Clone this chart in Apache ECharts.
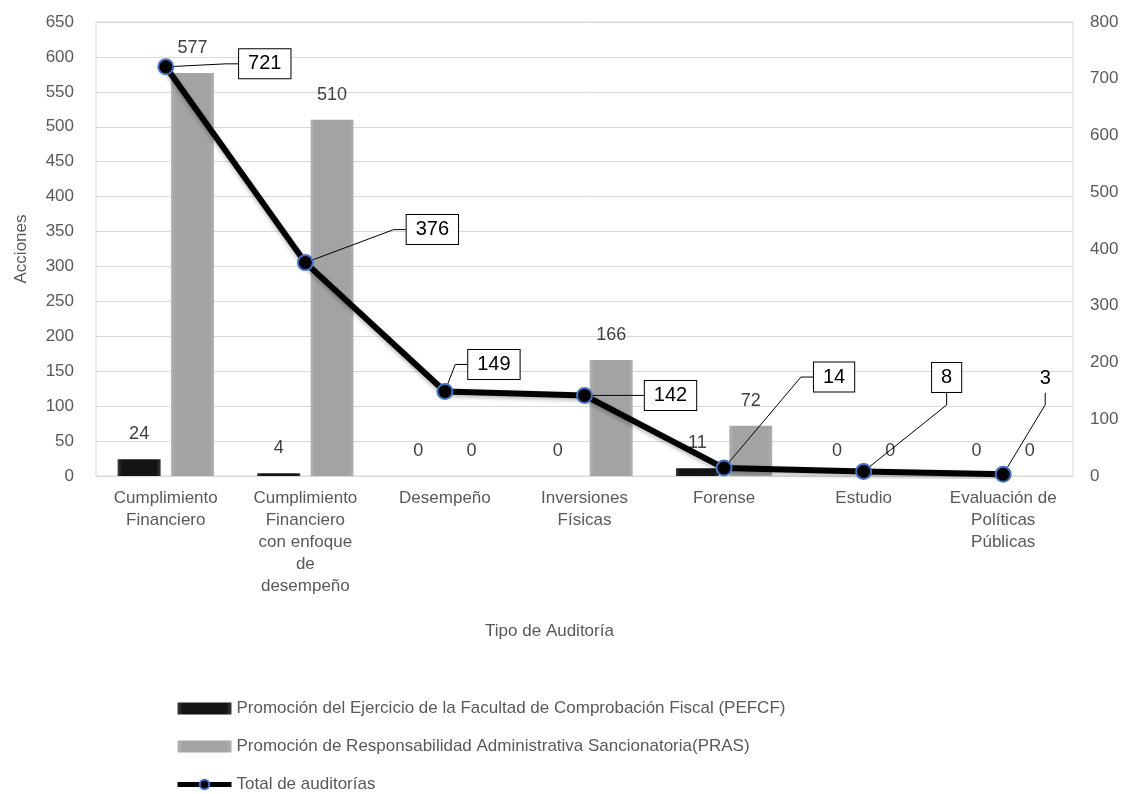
<!DOCTYPE html>
<html>
<head>
<meta charset="utf-8">
<script src="https://cdn.jsdelivr.net/npm/echarts@6/dist/echarts.min.js"></script>
<style>
  html, body { margin: 0; padding: 0; background: #fff; }
  #chart { width: 1130px; height: 794px; }
</style>
</head>
<body>
<div id="chart"></div>
<script>
// Tipos de auditoría y acciones promovidas
const categories = [
  'Cumplimiento\nFinanciero',
  'Cumplimiento\nFinanciero\ncon enfoque\nde\ndesempeño',
  'Desempeño',
  'Inversiones\nFísicas',
  'Forense',
  'Estudio',
  'Evaluación de\nPolíticas\nPúblicas'
];
const pefcf = [24, 4, 0, 0, 11, 0, 0];
const pras = [577, 510, 0, 166, 72, 0, 0];
const totalAuditorias = [721, 376, 149, 142, 14, 8, 3];

const leftTicks = { min: 0, max: 650, interval: 50 };
const rightTicks = { min: 0, max: 800, interval: 100 };

const seriesNames = [
  'Promoción del Ejercicio de la Facultad de Comprobación Fiscal (PEFCF)',
  'Promoción de Responsabilidad Administrativa Sancionatoria(PRAS)',
  'Total de auditorías'
];

// Desplazamiento de cada etiqueta del total respecto a su punto
const calloutOffsets = [
  [99, -3], [127, -33], [49, -27], [86, 0], [110, -91], [83, -94], [42, -96]
];
// La última etiqueta se dibuja sin recuadro
const boxedCallout = [true, true, true, true, true, true, false];

const txt = '#595959';
const font = 'Liberation Sans, Arial, sans-serif';

const darkFill = new echarts.graphic.LinearGradient(0, 0, 1, 0, [
  { offset: 0, color: '#3a3a3a' }, { offset: 0.1, color: '#141414' },
  { offset: 0.9, color: '#141414' }, { offset: 1, color: '#3a3a3a' }
]);
const greyFill = new echarts.graphic.LinearGradient(0, 0, 1, 0, [
  { offset: 0, color: '#b4b4b4' }, { offset: 0.1, color: '#a3a3a3' },
  { offset: 0.9, color: '#a3a3a3' }, { offset: 1, color: '#b0b0b0' }
]);

const chart = echarts.init(document.getElementById('chart'), null, { renderer: 'canvas' });

chart.setOption({
  backgroundColor: '#fff',
  textStyle: { fontFamily: font },
  animation: false,
  grid: {
    left: 96, right: 57, top: 22, bottom: 318,
    show: true, borderColor: '#d9d9d9', borderWidth: 1, backgroundColor: 'transparent'
  },
  legend: {
    orient: 'vertical',
    left: 175, top: 700,
    padding: 0,
    itemWidth: 54, itemHeight: 12, itemGap: 21,
    textStyle: { fontSize: 17, color: txt, fontFamily: font },
    data: [
      { name: seriesNames[0], icon: 'rect' },
      { name: seriesNames[1], icon: 'rect' },
      { name: seriesNames[2], lineStyle: { width: 5 } }
    ]
  },
  xAxis: {
    type: 'category',
    data: categories,
    name: 'Tipo de Auditoría',
    nameLocation: 'middle',
    nameGap: 147,
    nameTextStyle: { fontSize: 17, color: txt, padding: [0, 70, 0, 0] },
    axisLine: { show: true, lineStyle: { color: '#d9d9d9' } },
    axisTick: { show: false },
    axisLabel: { interval: 0, fontSize: 17, lineHeight: 22, color: txt, margin: 11 }
  },
  yAxis: [
    {
      type: 'value',
      min: leftTicks.min, max: leftTicks.max, interval: leftTicks.interval,
      name: 'Acciones',
      nameLocation: 'middle',
      nameGap: 66,
      nameTextStyle: { fontSize: 17, color: txt },
      axisLine: { show: false },
      axisTick: { show: false },
      axisLabel: { fontSize: 17, color: txt, margin: 22 },
      splitLine: { lineStyle: { color: '#d9d9d9', width: 1 } }
    },
    {
      type: 'value',
      min: rightTicks.min, max: rightTicks.max, interval: rightTicks.interval,
      position: 'right',
      axisLine: { show: false },
      axisTick: { show: false },
      axisLabel: { fontSize: 17, color: txt, margin: 17 },
      splitLine: { show: false }
    }
  ],
  series: [
    {
      name: seriesNames[0],
      type: 'bar',
      data: pefcf,
      barWidth: 43,
      barGap: '24%',
      itemStyle: { color: darkFill },
      label: { show: true, position: 'top', distance: 16, fontSize: 18, color: '#404040' }
    },
    {
      name: seriesNames[1],
      type: 'bar',
      data: pras,
      barWidth: 43,
      itemStyle: { color: greyFill },
      label: { show: true, position: 'top', distance: 16, fontSize: 18, color: '#404040' }
    },
    {
      name: seriesNames[2],
      type: 'line',
      yAxisIndex: 1,
      z: 5,
      data: totalAuditorias.map((v, i) => boxedCallout[i] ? v : {
        value: v,
        label: { backgroundColor: 'transparent', borderWidth: 0 }
      }),
      symbol: 'circle',
      symbolSize: 15,
      lineStyle: { color: '#000', width: 6, shadowColor: 'rgba(0,0,0,0.3)', shadowBlur: 4, shadowOffsetY: 2 },
      itemStyle: { color: '#000', borderColor: '#4472c4', borderWidth: 2 },
      label: {
        show: true,
        position: 'inside',
        fontSize: 20,
        color: '#000',
        backgroundColor: '#fff',
        borderColor: '#000',
        borderWidth: 1,
        padding: [5, 9, 4, 9]
      },
      labelLine: { show: true, length2: 12, lineStyle: { color: '#000', width: 1 } },
      labelLayout: (params) => ({
        dx: calloutOffsets[params.dataIndex][0],
        dy: calloutOffsets[params.dataIndex][1]
      })
    }
  ]
});
</script>
</body>
</html>
